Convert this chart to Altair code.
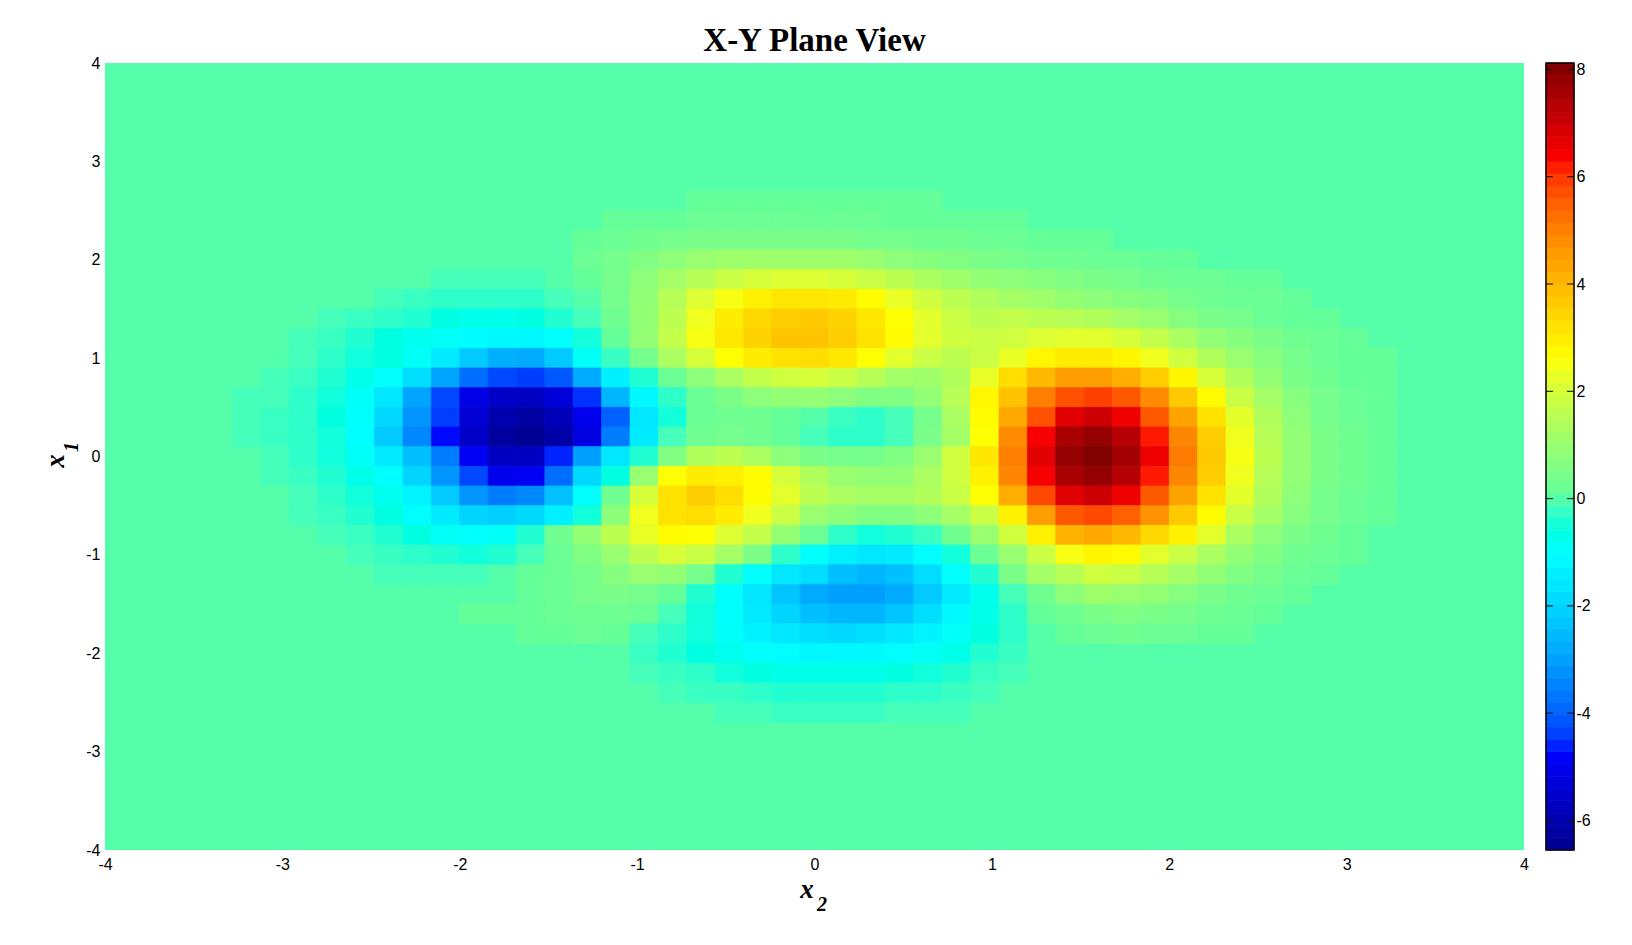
import altair as alt
import pandas as pd

# Axis tick labels and colour-bar ticks
axis_ticks = [-4, -3, -2, -1, 0, 1, 2, 3, 4]
bar_ticks = [-6, -4, -2, 0, 2, 4, 6, 8]
z_min, z_max = -6.55, 8.12
n_bar_levels = 64

# Grid centres (the rest of the plane is the flat zero colour)
x2_vals = [-3.2, -3.04, -2.88, -2.72, -2.56, -2.4, -2.24, -2.08, -1.92, -1.76,
           -1.6, -1.44, -1.28, -1.12, -0.96, -0.8, -0.64, -0.48, -0.32, -0.16,
           0, 0.16, 0.32, 0.48, 0.64, 0.8, 0.96, 1.12, 1.28, 1.44,
           1.6, 1.76, 1.92, 2.08, 2.24, 2.4, 2.56, 2.72, 2.88, 3.04, 3.2, 3.36]
x1_vals = [2.6, 2.4, 2.2, 2.0, 1.8, 1.6, 1.4, 1.2, 1.0, 0.8, 0.6, 0.4, 0.2, 0,
           -0.2, -0.4, -0.6, -0.8, -1.0, -1.2, -1.4, -1.6, -1.8, -2.0, -2.2, -2.4, -2.6]

# Values estimated from the picture's colours, one row per x1, 42 columns
Z10 = [0] * 10
Z12 = [0] * 12
z_rows = [
 Z10 + [0,0,0,0,0,0,.1,.1,.1,.1] + [.1,.1,.1,.1,.1,0,0,0,0,0] + Z12,
 Z10 + [0,0,0,.1,.1,.1,.2,.2,.2,.2] + [.2,.2,.2,.1,.1,.1,.1,.1,0,0] + Z12,
 Z10 + [0,0,.1,.2,.3,.4,.5,.5,.5,.5] + [.5,.5,.4,.4,.3,.3,.2,.2,.1,.1] + [.1,0,0,0,0,0,0,0,0,0,0,0],
 Z10 + [0,0,.2,.4,.6,.8,1.0,1.1,1.1,1.1] + [1.1,1.1,1.0,.8,.7,.6,.5,.4,.3,.3] + [.2,.2,.1,.1,0,0,0,0,0,0,0,0],
 [0,0,0,0,0,0,0,-.1,-.1,-.1] + [-.1,0,.1,.4,.8,1.2,1.5,1.8,2.0,2.1] + [2.1,2.0,1.8,1.6,1.3,1.1,.9,.8,.7,.6] + [.5,.4,.3,.2,.2,.1,.1,0,0,0,0,0],
 [0,0,0,0,0,-.1,-.2,-.3,-.3,-.3] + [-.3,-.1,0,.4,.9,1.5,2.1,2.5,2.9,3.1] + [3.1,3.0,2.7,2.3,1.9,1.6,1.4,1.2,1.1,.9] + [.8,.7,.6,.4,.3,.2,.2,.1,0,0,0,0],
 [0,0,0,-.1,-.2,-.3,-.4,-.6,-.7,-.7] + [-.6,-.4,-.1,.3,.9,1.6,2.4,3.0,3.4,3.6] + [3.7,3.5,3.1,2.6,2.2,1.8,1.6,1.7,1.6,1.5] + [1.4,1.2,1.0,.7,.5,.4,.2,.1,.1,0,0,0],
 [0,0,-.1,-.2,-.4,-.6,-.8,-.9,-1.1,-1.2] + [-1.2,-1.0,-.5,.1,.9,1.7,2.5,3.1,3.5,3.8] + [3.8,3.6,3.2,2.7,2.2,1.9,1.8,1.9,2.1,2.2] + [2.2,2.0,1.7,1.3,.9,.7,.5,.3,.2,.1,0,0],
 [0,0,-.1,-.3,-.5,-.6,-.9,-1.5,-2.2,-2.7] + [-2.8,-2.2,-.9,-.2,.4,1.3,2.0,2.6,3.0,3.2] + [3.3,3.1,2.6,2.2,1.8,1.6,1.8,2.3,2.8,3.0] + [3.0,2.8,2.4,1.9,1.4,1.0,.7,.4,.2,.1,.1,0],
 [0,-.1,-.2,-.4,-.7,-1.0,-1.8,-2.9,-3.8,-4.3] + [-4.4,-4.1,-2.8,-1.4,-.4,.2,.8,1.3,1.7,1.9] + [2.0,1.8,1.5,1.2,1.1,1.4,2.3,3.3,4.0,4.5] + [4.5,4.2,3.6,2.8,2.0,1.4,.9,.5,.3,.1,.1,0],
 [-.1,-.1,-.3,-.5,-.9,-1.6,-2.9,-4.3,-5.1,-5.6] + [-5.7,-5.3,-4.5,-2.6,-1.2,-.3,.2,.5,.8,.9] + [.9,.8,.6,.6,.9,1.5,2.8,3.8,5.0,5.7] + [5.9,5.6,4.8,3.7,2.7,1.8,1.2,.7,.4,.2,.1,0],
 [-.1,-.2,-.3,-.6,-1.0,-1.9,-3.2,-4.4,-5.4,-6.0] + [-6.2,-5.8,-5.0,-4.0,-1.6,-.5,.2,.3,.3,.1] + [0,-.2,-.3,-.1,.4,1.3,2.7,4.3,5.7,6.7] + [7.0,6.5,5.6,4.4,3.2,2.2,1.4,.8,.4,.2,.1,0],
 [-.1,-.2,-.3,-.5,-1.1,-2.2,-3.4,-4.7,-5.6,-6.3] + [-6.5,-6.1,-5.2,-3.6,-1.5,-.1,.3,.4,.3,.1] + [-.1,-.3,-.3,-.1,.5,1.2,2.6,4.8,6.4,7.5] + [7.8,7.3,6.2,4.9,3.6,2.4,1.5,.9,.5,.3,.1,0],
 [0,-.1,-.3,-.5,-.9,-1.5,-2.4,-3.6,-4.9,-5.7] + [-5.7,-4.6,-3.0,-1.6,-.4,.6,1.4,1.6,1.3,.8] + [.5,.4,.4,.6,1.0,1.9,3.1,5.0,6.7,7.8] + [8.1,7.6,6.5,5.1,3.7,2.5,1.6,.9,.5,.3,.1,0],
 [0,-.1,-.2,-.4,-.7,-1.1,-2.0,-3.2,-4.3,-5.0] + [-4.9,-3.8,-1.9,-.6,1.0,2.6,3.0,2.9,2.7,2.0] + [1.4,1.0,.9,.9,1.3,1.9,2.9,4.9,6.4,7.5] + [7.8,7.3,6.2,4.9,3.6,2.4,1.5,.9,.5,.3,.1,0],
 [0,0,-.1,-.3,-.5,-.8,-1.3,-2.2,-3.2,-3.6] + [-3.4,-2.4,-1.0,.3,2.0,3.2,3.6,3.3,2.7,2.2] + [1.6,1.3,1.2,1.2,1.4,1.8,2.6,4.2,5.8,6.7] + [7.0,6.5,5.6,4.4,3.2,2.2,1.4,.8,.4,.2,.1,0],
 [0,0,-.1,-.2,-.4,-.6,-1.0,-1.5,-2.0,-2.1] + [-1.9,-1.4,-.5,.8,2.4,3.2,3.3,3.0,2.4,1.8] + [1.0,.8,.6,.6,.8,1.2,1.8,2.9,4.5,5.6] + [5.8,5.5,4.7,3.7,2.7,1.8,1.2,.7,.4,.2,.1,0],
 [0,0,0,-.1,-.2,-.4,-.6,-.9,-1.0,-.9] + [-.4,.3,.9,1.6,2.3,2.7,2.6,2.1,1.7,.9] + [.2,-.3,-.5,-.4,-.2,.3,1.0,1.9,2.9,4.1] + [4.3,4.0,3.4,2.9,2.2,1.3,.8,.5,.3,.1,0,0],
 [0,0,0,0,-.1,-.2,-.3,-.4,-.5,-.4] + [-.1,.2,.6,1.0,1.6,2.0,1.8,1.2,.5,-.3] + [-1.0,-1.4,-1.6,-1.5,-1.1,-.5,.2,1.0,1.8,2.5] + [2.8,2.7,2.2,1.8,1.3,.9,.6,.3,.2,.1,0,0],
 [0,0,0,0,0,-.1,-.1,-.1,-.1,0] + [.1,.2,.4,.7,1.0,.9,.4,-.4,-1.0,-1.6] + [-1.8,-2.4,-2.6,-2.4,-1.8,-1.0,-.4,.5,1.2,1.5] + [1.9,1.8,1.5,1.2,.9,.6,.4,.2,.1,0,0,0],
 Z10 + [.1,.2,.4,.5,.4,.1,-.4,-1.0,-1.6,-2.3] + [-2.8,-3.0,-3.0,-2.8,-2.2,-1.5,-.8,-.1,.3,.8] + [1.1,1.0,.9,.7,.5,.3,.2,.1,0,0,0,0],
 [0,0,0,0,0,0,0,0,.1,.1] + [.1,.2,.3,.3,.2,-.1,-.5,-1.0,-1.5,-2.0] + [-2.4,-2.6,-2.6,-2.3,-1.8,-1.2,-.7,-.3,.1,.3] + [.5,.6,.5,.4,.3,.2,.1,0,0,0,0,0],
 Z10 + [.1,.1,.2,.1,-.1,-.3,-.5,-.9,-1.3,-1.6] + [-1.8,-1.9,-1.8,-1.6,-1.3,-.9,-.6,-.3,0,.1] + [.2,.3,.2,.2,.1,.1,0,0,0,0,0,0],
 Z10 + [0,0,0,0,-.2,-.4,-.6,-.8,-1.0,-1.1] + [-1.2,-1.2,-1.2,-1.1,-.9,-.7,-.4,-.2,0,0] + Z12,
 Z10 + [0,0,0,0,-.1,-.2,-.3,-.5,-.6,-.7] + [-.7,-.7,-.7,-.6,-.5,-.4,-.2,-.1,0,0] + Z12,
 Z10 + [0,0,0,0,0,-.1,-.2,-.2,-.3,-.4] + [-.4,-.4,-.4,-.3,-.3,-.2,-.1,0,0,0] + Z12,
 Z10 + [0,0,0,0,0,0,0,-.1,-.1,-.2] + [-.2,-.2,-.2,-.1,-.1,-.1,0,0,0,0] + Z12,
]

# Jet-like colour ramp; zero is the flat background, and the first contour band either side is visible
color_domain = [z_min, -4.72, -1.05, -0.1, 0, 0.1, 2.62, 6.28, z_max]
color_range = ["#00008f", "#0000ff", "#00ffff", "#45ffba", "#55ffaa", "#65ff9a", "#ffff00", "#ff0000", "#800000"]
BG = "#55ffaa"
SERIF = "Liberation Serif"
SANS = "Liberation Sans"
HYPHEN_LABEL = "'' + datum.value"

cells = pd.DataFrame(
    [{"x_lo": x2 - 0.08, "x_hi": x2 + 0.08, "y_lo": x1 - 0.1, "y_hi": x1 + 0.1, "z": z}
     for x1, row in zip(x1_vals, z_rows) for x2, z in zip(x2_vals, row) if z != 0]
)
color_scale = alt.Scale(domain=color_domain, range=color_range)

W, H = 1419, 787
x_enc = alt.X("x_lo:Q", scale=alt.Scale(domain=[-4, 4], nice=False),
              axis=alt.Axis(values=axis_ticks, title=None, ticks=False, domain=False, grid=False,
                            labelFont=SANS, labelFontSize=16, labelColor="black", labelPadding=6,
                            labelFlush=False, labelOverlap=False, labelExpr=HYPHEN_LABEL))
y_enc = alt.Y("y_lo:Q", scale=alt.Scale(domain=[-4, 4], nice=False),
              axis=alt.Axis(values=axis_ticks, title=None, ticks=False, domain=False, grid=False,
                            labelFont=SANS, labelFontSize=16, labelColor="black", labelPadding=5,
                            labelOverlap=False, labelExpr=HYPHEN_LABEL))

heat = alt.Chart(cells).mark_rect(strokeWidth=0.7).encode(
    x=x_enc, x2="x_hi:Q", y=y_enc, y2="y_hi:Q",
    color=alt.Color("z:Q", scale=color_scale, legend=None),
    stroke=alt.Stroke("z:Q", scale=color_scale, legend=None),
)


def label(text, px, py, size, angle=0):
    return alt.Chart(pd.DataFrame({"t": [text]})).mark_text(
        font=SERIF, fontStyle="italic", fontWeight="bold", fontSize=size, color="black",
        angle=angle, align="center", baseline="alphabetic", clip=False,
    ).encode(text="t:N", x=alt.value(px), y=alt.value(py))


main = alt.layer(
    heat,
    label("x", 702, 835, 27),
    label("2", 717, 848, 20),
    label("x", -41, 398, 27, 270),
    label("1", -27, 384, 20, 270),
).properties(
    width=W, height=H,
    title=alt.TitleParams("X-Y Plane View", font=SERIF, fontSize=33, fontWeight="bold",
                          color="black", anchor="middle", offset=-3),
    view=alt.ViewConfig(fill=BG, stroke=None),
)

step = (z_max - z_min) / n_bar_levels
bar_df = pd.DataFrame({
    "lo": [z_min + i * step for i in range(n_bar_levels)],
    "hi": [z_min + (i + 1) * step for i in range(n_bar_levels)],
    "mid": [z_min + (i + 0.5) * step for i in range(n_bar_levels)],
})
bar_y = alt.Scale(domain=[z_min, z_max], nice=False, zero=False)
bar_axis = alt.Axis(orient="right", values=bar_ticks, title=None, ticks=False, domain=False,
                    grid=False, labelFont=SANS, labelFontSize=16, labelColor="black",
                    labelPadding=2, labelOverlap=False, labelExpr=HYPHEN_LABEL)
bar_rects = alt.Chart(bar_df).mark_rect(strokeWidth=0.7).encode(
    y=alt.Y("lo:Q", scale=bar_y, axis=bar_axis),
    y2="hi:Q",
    color=alt.Color("mid:Q", scale=color_scale, legend=None),
    stroke=alt.Stroke("mid:Q", scale=color_scale, legend=None),
)
tick_df = pd.DataFrame({"v": bar_ticks})
tick_l = alt.Chart(tick_df).mark_rule(color="black", strokeWidth=1).encode(
    y=alt.Y("v:Q", scale=bar_y, axis=bar_axis), x=alt.value(0), x2=alt.value(7))
tick_r = alt.Chart(tick_df).mark_rule(color="black", strokeWidth=1).encode(
    y=alt.Y("v:Q", scale=bar_y, axis=bar_axis), x=alt.value(21), x2=alt.value(28))
outline = alt.Chart(pd.DataFrame({"o": [1]})).mark_rect(
    fillOpacity=0, stroke="black", strokeWidth=1.5
).encode(x=alt.value(0), x2=alt.value(28), y=alt.value(0), y2=alt.value(H))
bar = alt.layer(bar_rects, tick_l, tick_r, outline).properties(
    width=28, height=H, view=alt.ViewConfig(stroke=None))

chart = alt.hconcat(main, bar, spacing=16).resolve_scale(
    color="independent", stroke="independent", y="independent", x="independent"
).properties(
    background="white",
    padding={"left": 34, "top": 17, "right": 5, "bottom": 5},
)
chart.save("out.html", embed_options={"renderer": "svg", "actions": False})
